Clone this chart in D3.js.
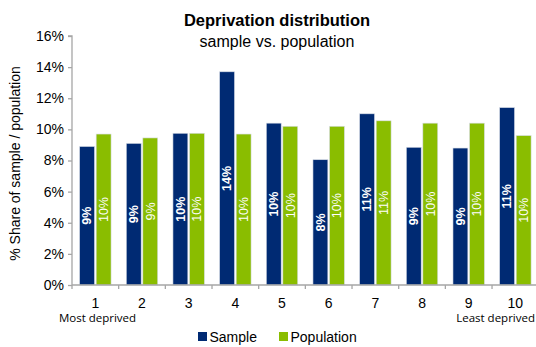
<!DOCTYPE html>
<html>
<head>
<meta charset="utf-8">
<script src="https://cdn.jsdelivr.net/npm/d3@7"></script>
<style>
  html, body { margin: 0; padding: 0; background: #fff; }
  svg { display: block; font-family: "Liberation Sans", Arial, sans-serif; }
</style>
</head>
<body>
<svg id="chart" width="536" height="347"></svg>
<script>
// Deprivation deciles (1 = most deprived, 10 = least deprived)
const categories = ["1", "2", "3", "4", "5", "6", "7", "8", "9", "10"];
// Share of sample and of population in each decile, in percent
const sampleValues = [8.9, 9.1, 9.75, 13.7, 10.4, 8.05, 11.0, 8.85, 8.8, 11.4];
const populationValues = [9.7, 9.45, 9.75, 9.7, 10.2, 10.2, 10.55, 10.4, 10.4, 9.6];
const seriesNames = ["Sample", "Population"];
const seriesColors = ["#002a73", "#8abd00"];
const yTicks = [0, 2, 4, 6, 8, 10, 12, 14, 16];

const svg = d3.select("#chart");
const plot = { left: 72, right: 538.7, top: 36, bottom: 285 };

const x = d3.scaleBand().domain(categories).range([plot.left, plot.right]).padding(0);
const sub = d3.scaleBand().domain(seriesNames).range([0, x.bandwidth()])
  .paddingInner(0.1).paddingOuter(0.46);
const y = d3.scaleLinear().domain([0, 16]).range([plot.bottom, plot.top]);

const rows = categories.map((c, i) => ({
  cat: c,
  values: [
    { series: "Sample", value: sampleValues[i] },
    { series: "Population", value: populationValues[i] }
  ]
}));

// Title
svg.append("text").attr("x", 277).attr("y", 26).attr("text-anchor", "middle")
  .attr("font-size", 16.5).attr("font-weight", "bold").attr("fill", "#000")
  .text("Deprivation distribution");
svg.append("text").attr("x", 277).attr("y", 47).attr("text-anchor", "middle")
  .attr("font-size", 16).attr("fill", "#000")
  .text("sample vs. population");

// Bars
const groups = svg.append("g").selectAll("g").data(rows).join("g")
  .attr("transform", d => `translate(${x(d.cat)},0)`);

groups.selectAll("rect").data(d => d.values).join("rect")
  .attr("x", d => sub(d.series))
  .attr("width", sub.bandwidth())
  .attr("y", d => y(d.value))
  .attr("height", d => y(0) - y(d.value))
  .attr("fill", (d, i) => seriesColors[i])
  .attr("stroke", "#d8dde6")
  .attr("stroke-width", 0.6);

// Value labels, rotated inside each bar
groups.selectAll("text.val").data(d => d.values).join("text")
  .attr("class", "val")
  .attr("transform", d => {
    const cx = sub(d.series) + sub.bandwidth() / 2;
    const cy = (y(d.value) + y(0)) / 2;
    return `translate(${cx + 4.3},${cy}) rotate(-90)`;
  })
  .attr("text-anchor", "middle")
  .attr("font-size", 12.5)
  .attr("font-weight", d => d.series === "Sample" ? "bold" : "normal")
  .attr("fill", "#fff")
  .text(d => d3.format(".0f")(d.value) + "%");

// Y axis
const yAxis = svg.append("g").attr("transform", `translate(${plot.left},0)`)
  .call(d3.axisLeft(y).tickValues(yTicks).tickSize(4).tickPadding(4)
    .tickFormat(d => d + "%"));
yAxis.select(".domain").attr("stroke", "#a6a6a6").attr("stroke-width", 1.3)
  .attr("d", `M-4,${y(16)}H0V${y(0)}`);
yAxis.selectAll(".tick line").attr("stroke", "#a6a6a6").attr("stroke-width", 1.3);
yAxis.selectAll(".tick text").attr("font-size", 14).attr("fill", "#000")
  .attr("font-family", "Liberation Sans, Arial, sans-serif");

// X axis: baseline with tick marks at category boundaries
const xAxis = svg.append("g");
xAxis.append("line")
  .attr("x1", plot.left).attr("x2", plot.right)
  .attr("y1", y(0)).attr("y2", y(0))
  .attr("stroke", "#a6a6a6").attr("stroke-width", 1.3);
xAxis.selectAll("line.tk").data(categories).join("line")
  .attr("class", "tk")
  .attr("x1", d => x(d)).attr("x2", d => x(d))
  .attr("y1", y(0)).attr("y2", y(0) + 4)
  .attr("stroke", "#a6a6a6").attr("stroke-width", 1.3);
xAxis.selectAll("text").data(categories).join("text")
  .attr("x", d => x(d) + x.bandwidth() / 2)
  .attr("y", 308)
  .attr("text-anchor", "middle")
  .attr("font-size", 14).attr("fill", "#000")
  .text(d => d);

// Decile end notes
svg.append("text").attr("x", 97.5).attr("y", 322).attr("text-anchor", "middle")
  .attr("font-family", "Open Sans, sans-serif").attr("font-size", 11.5).attr("fill", "#000")
  .text("Most deprived");
svg.append("text").attr("x", 535).attr("y", 322).attr("text-anchor", "end")
  .attr("font-family", "Open Sans, sans-serif").attr("font-size", 11.5).attr("fill", "#000")
  .text("Least deprived");

// Y axis title
svg.append("text")
  .attr("transform", `translate(20,${(plot.top + plot.bottom) / 2 + 3}) rotate(-90)`)
  .attr("text-anchor", "middle").attr("font-size", 14).attr("fill", "#000")
  .text("% Share of sample / population");

// Legend
const legendX = [198, 279];
const legend = svg.append("g").selectAll("g").data(seriesNames).join("g")
  .attr("transform", (d, i) => `translate(${legendX[i]},332)`);
legend.append("rect").attr("width", 9).attr("height", 9)
  .attr("fill", (d, i) => seriesColors[i]);
legend.append("text").attr("x", 11.5).attr("y", 10).attr("font-size", 14)
  .attr("fill", "#000").text(d => d);
</script>
</body>
</html>
